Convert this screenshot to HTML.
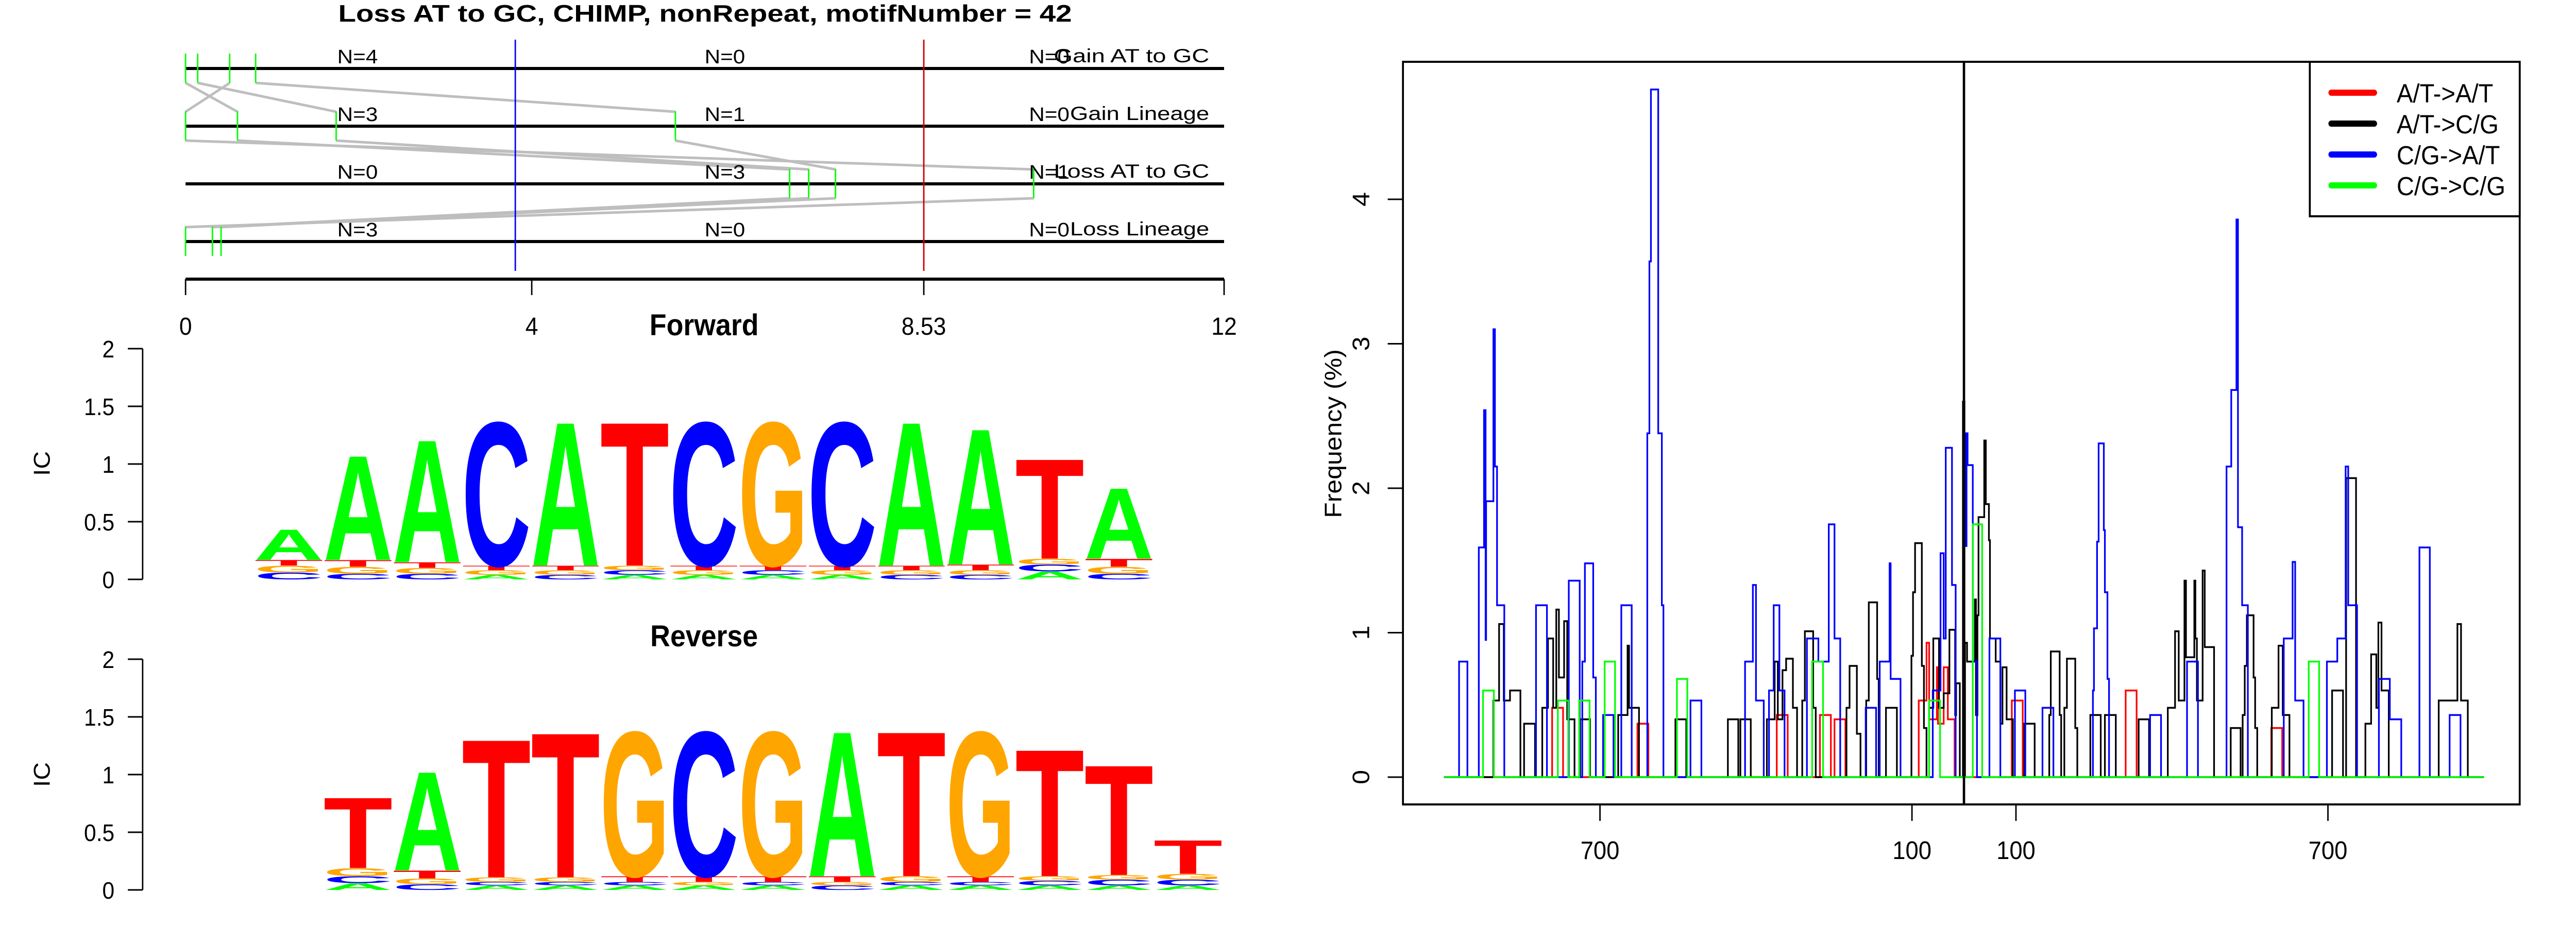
<!DOCTYPE html>
<html><head><meta charset="utf-8"><style>
html,body{margin:0;padding:0;background:#fff;width:100%;height:100%;overflow:hidden;}
svg{display:block;width:100vw;height:100vh;font-family:"Liberation Sans",Arial,sans-serif;}
</style></head><body>
<svg id="root" viewBox="0 0 5400 1800" preserveAspectRatio="none" xmlns="http://www.w3.org/2000/svg">
<rect x="0" y="0" width="5400" height="1800" fill="#fff"/>
<text x="709" y="42" font-size="46" font-weight="bold" textLength="1538" lengthAdjust="spacingAndGlyphs">Loss AT to GC, CHIMP, nonRepeat, motifNumber = 42</text>
<g id="tracks"></g>
<g id="logos"></g>
<g id="freq"></g>
</svg>
<script>
const NS="http://www.w3.org/2000/svg";
// ---------- Track panel data ----------
const trackNames=["Gain AT to GC","Gain Lineage","Loss AT to GC","Loss Lineage"];
const trackN=[["N=4","N=0","N=0"],["N=3","N=1","N=0"],["N=0","N=3","N=1"],["N=3","N=0","N=0"]];
const trackSites=[[0,0.14,0.51,0.81],[0,0.6,1.74,5.66],[6.98,7.2,7.51,9.8],[0,0.31,0.41]];
const linkFrom=[[0,0.14,0.51,0.81],[0,0.6,1.74,5.66],[6.98,7.2,7.51,9.8]];
const linkTo=[[0.6,1.74,0,5.66],[9.8,6.98,7.2,7.51],[0.31,0.41,0.31,0]];
const posTicks=[0,4,8.53,12];
const markerBlue=3.81, markerRed=8.53;
// ---------- Logo data ----------
const fwdLetters=["CGTA","CGTA","CGTA","AGTC","CGTA","ACGT","AGTC","ACTG","AGTC","CGTA","CGTA","ACGT","CGTA"];
const fwdHeights=[[.06,.06,.05,.27],[.05,.06,.06,.93],[.05,.05,.05,1.09],[.04,.04,.04,1.28],[.04,.04,.04,1.28],[.04,.04,.04,1.28],[.04,.04,.04,1.28],[.04,.04,.04,1.28],[.04,.04,.04,1.28],[.04,.04,.04,1.28],[.04,.04,.05,1.21],[.07,.06,.05,.89],[.05,.06,.07,.63]];
const revLetters=["ACGT","CGTA","ACGT","ACGT","ACTG","AGTC","ACTG","CGTA","ACGT","ACTG","ACGT","ACGT","ACGT"];
const revHeights=[[.06,.06,.07,.63],[.05,.05,.07,.88],[.04,.03,.04,1.23],[.04,.03,.04,1.29],[.04,.03,.05,1.29],[.04,.03,.05,1.29],[.04,.03,.05,1.29],[.04,.03,.05,1.29],[.04,.03,.05,1.29],[.04,.03,.05,1.29],[.04,.04,.04,1.13],[.04,.05,.04,.98],[.04,.05,.05,.30]];
const icTicks=[0,0.5,1,1.5,2];
const icLabels=["0","0.5","1","1.5","2"];
// ---------- Frequency chart data ----------
const freqXTicks=[-700,-100,100,700];
const freqXLabels=["700","100","100","700"];
const freqYTicks=[0,1,2,3,4];
const seriesNames=["A/T->A/T","A/T->C/G","C/G->A/T","C/G->C/G"];
const redX=[-792,-771,-628,-607,-360,-339,-277,-256,-249,-228,-87,-72,-67,-52,-50,-39,-31,-18,92,113,311,332,591,612];
const redY=[.48,0,.37,0,.43,0,.43,0,.40,0,.53,.93,.40,.76,.37,.76,.40,0,.53,0,.60,0,.34,0];
const blackX=[-905,-894,-885,-873,-853,-846,-825,-811,-800,-790,-784,-779,-769,-763,-749,-738,-719,-665,-647,-644,-625,-555,-534,-454,-434,-430,-410,-379,-364,-358,-349,-342,-329,-321,-311,-306,-290,-285,-226,-220,-206,-199,-188,-183,-167,-164,-150,-129,-101,-98,-94,-81,-77,-72,-67,-59,-48,-39,-28,-17,-15,-8,-2,1,2,6,21,23,26,28,39,42,48,50,61,70,74,82,94,116,136,164,167,184,187,193,198,214,218,243,263,271,292,336,356,392,406,413,424,427,443,445,448,459,463,481,513,532,536,540,544,557,560,564,592,605,613,626,708,729,735,754,772,783,793,797,803,817,913,949,956,969];
const blackY=[.53,1.06,.53,.60,0,.37,0,.48,.96,.48,1.16,.69,1.08,.40,0,.40,0,.43,.91,.48,0,.40,0,.40,0,.40,0,.40,.80,.40,.74,.82,.48,0,.53,1.01,.48,0,.48,.77,.30,0,.53,1.21,.68,0,.48,0,.84,1.28,1.62,.77,.34,0,.48,.96,.48,.58,1.02,.43,.65,0,2.6,0,.93,.80,1.23,.43,1.12,1.80,2.33,1.89,1.64,.96,.80,.37,.76,.40,0,.37,0,.43,.87,.43,0,.48,.82,.34,0,.43,0,.43,0,.40,0,.48,1.01,.53,1.36,.83,1.36,.96,.53,1.43,.90,0,.34,0,.43,.77,1.12,.69,.34,0,.48,.91,.43,0,.60,0,2.07,0,.37,.85,.48,1.07,.60,0,.53,1.06,.53,0];
const blueX=[-971,-955,-933,-923,-920,-919,-905,-902,-898,-884,-823,-802,-760,-739,-734,-729,-713,-708,-694,-674,-659,-639,-609,-605,-602,-588,-581,-578,-526,-505,-421,-406,-400,-385,-375,-366,-355,-345,-302,-280,-260,-249,-238,-189,-169,-162,-143,-141,-122,-60,-45,-39,-35,-23,-16,0,4,5,7,17,25,49,70,98,118,151,172,248,250,256,259,269,271,276,279,358,379,429,450,505,514,524,527,535,546,615,632,637,653,698,718,734,739,756,798,819,841,876,896,934,955];
const blueY=[.80,0,1.59,2.54,.95,1.91,3.10,2.15,1.19,0,1.19,0,1.36,0,.80,1.48,.69,0,.43,0,1.19,0,2.38,3.57,4.76,2.38,1.19,0,.53,0,.80,1.33,.53,0,.60,1.19,.60,0,.96,.80,1.75,.96,0,.48,0,.80,1.48,.68,0,.60,1.55,.96,2.28,1.33,0,2.38,1.6,2.38,2.16,.80,0,.96,0,.60,0,.48,0,.60,1.03,1.63,2.31,1.71,1.28,.68,0,.43,0,.80,0,2.15,2.68,3.86,1.73,1.19,0,.96,1.49,.53,0,.80,.96,2.15,1.19,0,.68,.40,0,1.59,0,.43,0];
const greenX=[-925,-904,-781,-761,-740,-720,-691,-671,-552,-532,-292,-271,-67,-46,17,35,663,683];
const greenY=[.60,0,.53,0,.53,0,.80,0,.68,0,.80,0,.53,0,1.75,0,.80,0];

function mk(tag,attrs,parent,txt){const e=document.createElementNS(NS,tag);for(const k in attrs)e.setAttribute(k,attrs[k]);if(txt!==undefined)e.textContent=txt;parent.appendChild(e);return e;}

// ===== Track panel =====
(function(){
  const g=document.getElementById('tracks');
  const X=v=>389+v*181.42;
  const lineY=[133,245,357,469];
  for(let i=0;i<linkFrom.length;i++){
    for(let j=0;j<linkFrom[i].length;j++){
      const l=mk('line',{x1:X(linkFrom[i][j]),y1:lineY[i]+28,x2:X(linkTo[i][j]),y2:lineY[i+1]-28,stroke:'#bebebe','stroke-width':5},g);
      
      
    }
  }
  for(let i=0;i<4;i++){
    const ln=mk('line',{x1:389,x2:2566,y1:lineY[i],y2:lineY[i],stroke:'#000','stroke-width':6},g);
    
    
    trackSites[i].forEach(v=>{
      const t=mk('line',{x1:X(v),x2:X(v),y1:lineY[i]-29,y2:lineY[i]+28,stroke:'#00ff00','stroke-width':3},g);
      
      
    });
    const nx=[707,1477,2157];
    trackN[i].forEach((s,k)=>{
      const t=mk('text',{x:nx[k],y:lineY[i]-10,'font-size':38,textLength:85,lengthAdjust:'spacingAndGlyphs'},g,s);
      
      
    });
    const tw=[326,292,326,292][i];
    const tl=mk('text',{x:2535-tw,y:lineY[i]-12,'font-size':37,textLength:tw,lengthAdjust:'spacingAndGlyphs'},g,trackNames[i]);
    
    
  }
  const b=mk('line',{x1:X(markerBlue),x2:X(markerBlue),y1:77,y2:526,stroke:'#0000ff','stroke-width':3},g);
  
  
  const r=mk('line',{x1:X(markerRed),x2:X(markerRed),y1:77,y2:526,stroke:'#cc0000','stroke-width':3},g);
  
  
  const ax=mk('line',{x1:389,x2:2566,y1:542,y2:542,stroke:'#000','stroke-width':6},g);
  
  
  posTicks.forEach(v=>{
    const t=mk('line',{x1:X(v),x2:X(v),y1:542,y2:573,stroke:'#000','stroke-width':3},g);
    
    
    const lb=mk('text',{x:X(v),y:650,'font-size':48,'text-anchor':'middle'},g,String(v));
    
    
  });
})();

// ===== Logos =====
(function(){
  const g=document.getElementById('logos');
  const colors={A:'#00ff00',C:'#0000ff',G:'#ffa500',T:'#ff0000'};
  function logo(title,titleY,base,x0,letters,heights,name,icY){
    const unit=224;
    const tt=mk('text',{x:1476,y:titleY,'font-size':58,'font-weight':'bold','text-anchor':'middle'},g,title);
    
    
    const axl=mk('line',{x1:299,x2:299,y1:base,y2:base-2*unit,stroke:'#000','stroke-width':3},g);
    
    
    icTicks.forEach((v,i)=>{
      const y=base-v*unit;
      const t=mk('line',{x1:268,x2:299,y1:y,y2:y,stroke:'#000','stroke-width':3},g);
      
      
      const l=mk('text',{x:240,y:y+17,'font-size':46,'text-anchor':'end'},g,icLabels[i]);
      
      
    });
    const ic=mk('text',{x:0,y:0,'font-size':48,'text-anchor':'middle',transform:`translate(104,${icY}) rotate(-90)`},g,'IC');
    
    
    for(let c=0;c<letters.length;c++){
      let y=base;
      const x=x0+c*145;
      for(let k=0;k<4;k++){
        const ch=letters[c][k];
        const h=heights[c][k]*unit;
        const sy=h/71.6;
        const t=mk('text',{x:x,y:0,'font-size':100,'font-weight':'bold',fill:colors[ch],textLength:145,lengthAdjust:'spacingAndGlyphs',transform:`translate(0,${y}) scale(1,${sy})`},g,ch);
        
        
        y-=h;
      }
    }
  }
  logo('Forward',651,1125,533,fwdLetters,fwdHeights,'forward-logo',900);
  logo('Reverse',1255,1728,678,revLetters,revHeights,'reverse-logo',1504);
})();

// ===== Frequency chart =====
(function(){
  const g=document.getElementById('freq');
  const X=v=>4117+v*1.09;
  const Y=v=>1509-v*280.5;
  const L=2941,R=5282,T=120,B=1562;
  function step(xs,ys,color,name,w){
    let d=`M${X(-1000)},${Y(0)}`;
    for(let i=0;i<xs.length;i++){d+=` H${X(xs[i]).toFixed(1)} V${Y(ys[i]).toFixed(1)}`;}
    d+=` H${X(1000)}`;
    const p=mk('path',{d:d,fill:'none',stroke:color,'stroke-width':w,'stroke-linejoin':'miter'},g);
    
    
  }
  step(redX,redY,'#ff0000','series-at-to-at',3.5);
  step(blackX,blackY,'#000000','series-at-to-cg',3.5);
  step(blueX,blueY,'#0000ff','series-cg-to-at',3.5);
  step(greenX,greenY,'#00ff00','series-cg-to-cg',3.5);
  const cl=mk('line',{x1:X(0),x2:X(0),y1:T,y2:B,stroke:'#000','stroke-width':5},g);
  
  
  const box=mk('rect',{x:L,y:T,width:R-L,height:B-T,fill:'none',stroke:'#000','stroke-width':4},g);
  
  
  freqYTicks.forEach(v=>{
    const t=mk('line',{x1:L-32,x2:L,y1:Y(v),y2:Y(v),stroke:'#000','stroke-width':3},g);
    
    
    const l=mk('text',{x:0,y:0,'font-size':50,'text-anchor':'middle',transform:`translate(2870,${Y(v)}) rotate(-90)`},g,String(v));
    
    
  });
  const yt=mk('text',{x:0,y:0,'font-size':50,'text-anchor':'middle',transform:'translate(2812,842) rotate(-90)'},g,'Frequency (%)');
  
  
  freqXTicks.forEach((v,i)=>{
    const t=mk('line',{x1:X(v),x2:X(v),y1:B,y2:B+32,stroke:'#000','stroke-width':3},g);
    
    
    const l=mk('text',{x:X(v),y:1668,'font-size':49,'text-anchor':'middle'},g,freqXLabels[i]);
    
    
  });
  const lg=mk('rect',{x:4842,y:120,width:440,height:300,fill:'#fff',stroke:'#000','stroke-width':4},g);
  
  
  const cols=['#ff0000','#000000','#0000ff','#00ff00'];
  seriesNames.forEach((s,i)=>{
    const y=180+i*60;
    const ln=mk('line',{x1:4887,x2:4977,y1:y,y2:y,stroke:cols[i],'stroke-width':12,'stroke-linecap':'round'},g);
    
    
    const t=mk('text',{x:5024,y:y+19,'font-size':51},g,s);
    
    
  });
})();
</script>
</body></html>
